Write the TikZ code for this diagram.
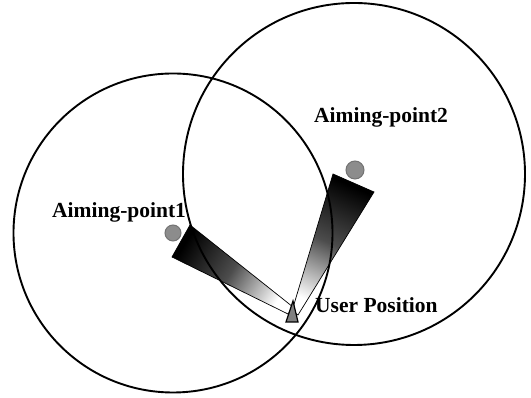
\documentclass[tikz,border=0pt]{standalone}
\usepackage{fontspec}
\setmainfont{Liberation Serif}
\begin{document}
\begin{tikzpicture}[x=1pt,y=1pt,
    ring/.style={line width=1.9pt},
    beam/.style={draw=black,line width=0.7pt,top color=black,bottom color=white,middle color=black!70},
    aimdot/.style={circle,fill=black!45,draw=black!55,line width=1pt,minimum size=16pt,inner sep=0pt},
    lbl/.style={font=\fontsize{21.5}{24}\selectfont\bfseries,anchor=base west,inner sep=0pt}]
    \useasboundingbox (0,0) rectangle (531,398);
    % circle centres and user position
    \coordinate (O1) at (173,165);
    \coordinate (O2) at (354,224);
    \coordinate (U) at (293,97);
    % beams towards the user
    \shade[beam,shading angle=58] (190,173) -- (293,91) -- (288,84) -- (172,141) -- cycle;
    \shade[beam,shading angle=-24] (333,224) -- (374,206) -- (298,83) -- (292,87) -- cycle;
    \draw[ring] (O1) circle (159.5);
    \draw[ring] (O2) circle (171);
    \node[aimdot] (ap1) at (O1) {};
    \node[aimdot,minimum size=18pt] (ap2) at (355,228) {};
    \draw[fill=black!50,line width=1.2pt] (U) -- (298,76) -- (286,76) -- cycle;
    \node[lbl] (t1) at (52,180) {Aiming-point1};
    \node[lbl] (t2) at (314,275) {Aiming-point2};
    \node[lbl] (t3) at (315,85) {User Position};
\end{tikzpicture}
\end{document}
